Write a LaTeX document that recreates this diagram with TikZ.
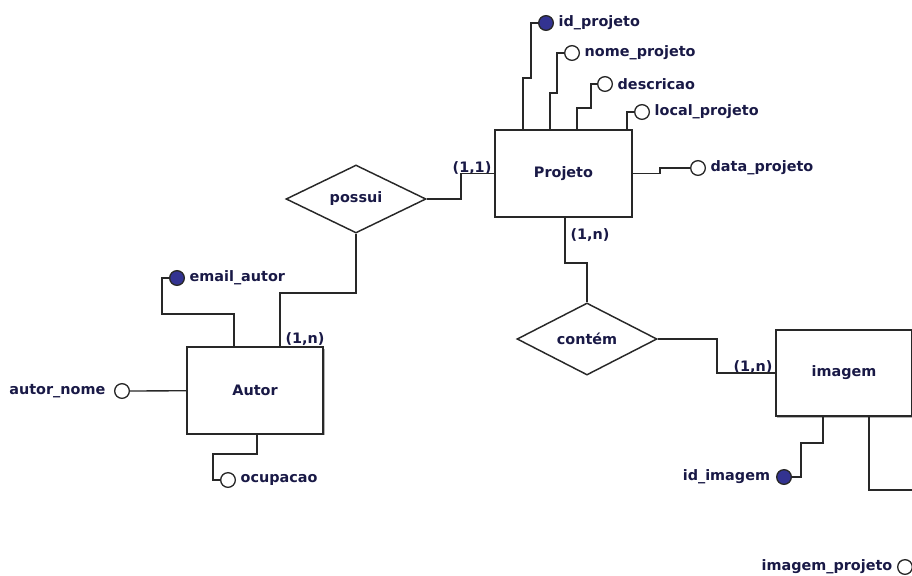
\documentclass[tikz,border=0pt]{standalone}
\usepackage{fontspec}
\setmainfont{DejaVu Sans}
\usetikzlibrary{positioning,shapes.geometric,shadows}
\definecolor{txtblue}{RGB}{25,25,70}
\definecolor{keyblue}{RGB}{51,51,145}
\definecolor{linegray}{RGB}{40,40,40}

\begin{document}
\begin{tikzpicture}[x=0.75pt,y=-0.75pt,line width=1pt,draw=linegray,
    every node/.style={font=\fontsize{10.8}{12}\selectfont\bfseries,text=txtblue},
    entity/.style={rectangle,draw=linegray,line width=1.3pt,fill=white,minimum width=102.5pt,minimum height=65pt,
        drop shadow={shadow xshift=1.2pt,shadow yshift=-1.2pt,fill=black!50,opacity=0.6}},
    relation/.style={diamond,draw=linegray,line width=1.1pt,fill=white,inner sep=0pt,minimum width=105pt,minimum height=51pt},
    attr/.style={circle,draw=linegray,fill=white,inner sep=0pt,minimum size=11pt},
    keyattr/.style={attr,fill=keyblue},
    attrname/.style={inner sep=1pt},
    card/.style={inner sep=0pt}]
        \useasboundingbox (0,0) rectangle (912,575);
        \clip (0,0) rectangle (912,575);

        \node[entity] (projeto) at (563.5,173.5) {Projeto};
        \node[entity] (autor) at (255,390.5) {Autor};
        \node[entity] (imagem) at (844,373) {imagem};
        \node[relation] (possui) at (356,199) {possui};
        \node[relation] (contem) at (587,339) {contém};

        \node[keyattr] (idprojeto) at (546,23) {};
        \node[attrname,right=2pt of idprojeto] (idprojetotxt) {id\_projeto};
        \node[attr] (nomeprojeto) at (572,53) {};
        \node[attrname,right=2pt of nomeprojeto] (nomeprojetotxt) {nome\_projeto};
        \node[attr] (descricao) at (605,84) {};
        \node[attrname,right=2pt of descricao] (descricaotxt) {descricao};
        \node[attr] (localprojeto) at (642,112) {};
        \node[attrname,right=2pt of localprojeto] (localprojetotxt) {local\_projeto};
        \node[attr] (dataprojeto) at (698,168) {};
        \node[attrname,right=2pt of dataprojeto] (dataprojetotxt) {data\_projeto};

        \node[keyattr] (emailautor) at (177,278) {};
        \node[attrname,right=2pt of emailautor] (emailautortxt) {email\_autor};
        \node[attr] (autornome) at (122,391) {};
        \node[attrname,left=5pt of autornome] (autornometxt) {autor\_nome};
        \node[attr] (ocupacao) at (228,480) {};
        \node[attrname,right=2pt of ocupacao] (ocupacaotxt) {ocupacao};

        \node[keyattr] (idimagem) at (784,477) {};
        \node[attrname,left=3pt of idimagem] (idimagemtxt) {id\_imagem};
        \node[attr] (imagemprojeto) at (905,567) {};
        \node[attrname,left=2pt of imagemprojeto] (imagemprojetotxt) {imagem\_projeto};

        \node[card] (card1) at (472,168) {(1,1)};
        \node[card] (card2) at (305,339) {(1,n)};
        \node[card] (card3) at (590,235) {(1,n)};
        \node[card] (card4) at (753,367) {(1,n)};

        % atributos de Projeto
        \draw (523,0 |- projeto.north) |- (531,78) |- (idprojeto);
        \draw (550,0 |- projeto.north) |- (557,93) |- (nomeprojeto);
        \draw (577,0 |- projeto.north) |- (591,108) |- (descricao);
        \draw (627,0 |- projeto.north) |- (localprojeto);
        \draw (projeto.east) -- (660,0 |- projeto.east) |- (dataprojeto);

        % possui
        \draw (possui.east) -| (461,0 |- projeto.west) -- (projeto.west);
        \draw (possui.south) |- (280,293) -- (280,0 |- autor.north);

        % atributos de Autor
        \draw (234,0 |- autor.north) |- (162,314) |- (emailautor);
        \draw (autornome) -- (autor);
        \draw (257,0 |- autor.south) |- (213,454) |- (ocupacao);

        % contém
        \draw (565,0 |- projeto.south) |- (587,263) -- (contem.north);
        \draw (contem.east) -| (717,0 |- imagem.west) -- (imagem.west);

        % atributos de imagem
        \draw (823,0 |- imagem.south) |- (801,443) |- (idimagem);
        \coordinate (fora) at (935,490);
        \draw (869,0 |- imagem.south) |- (fora) |- (imagemprojeto);
    \end{tikzpicture}
\end{document}
